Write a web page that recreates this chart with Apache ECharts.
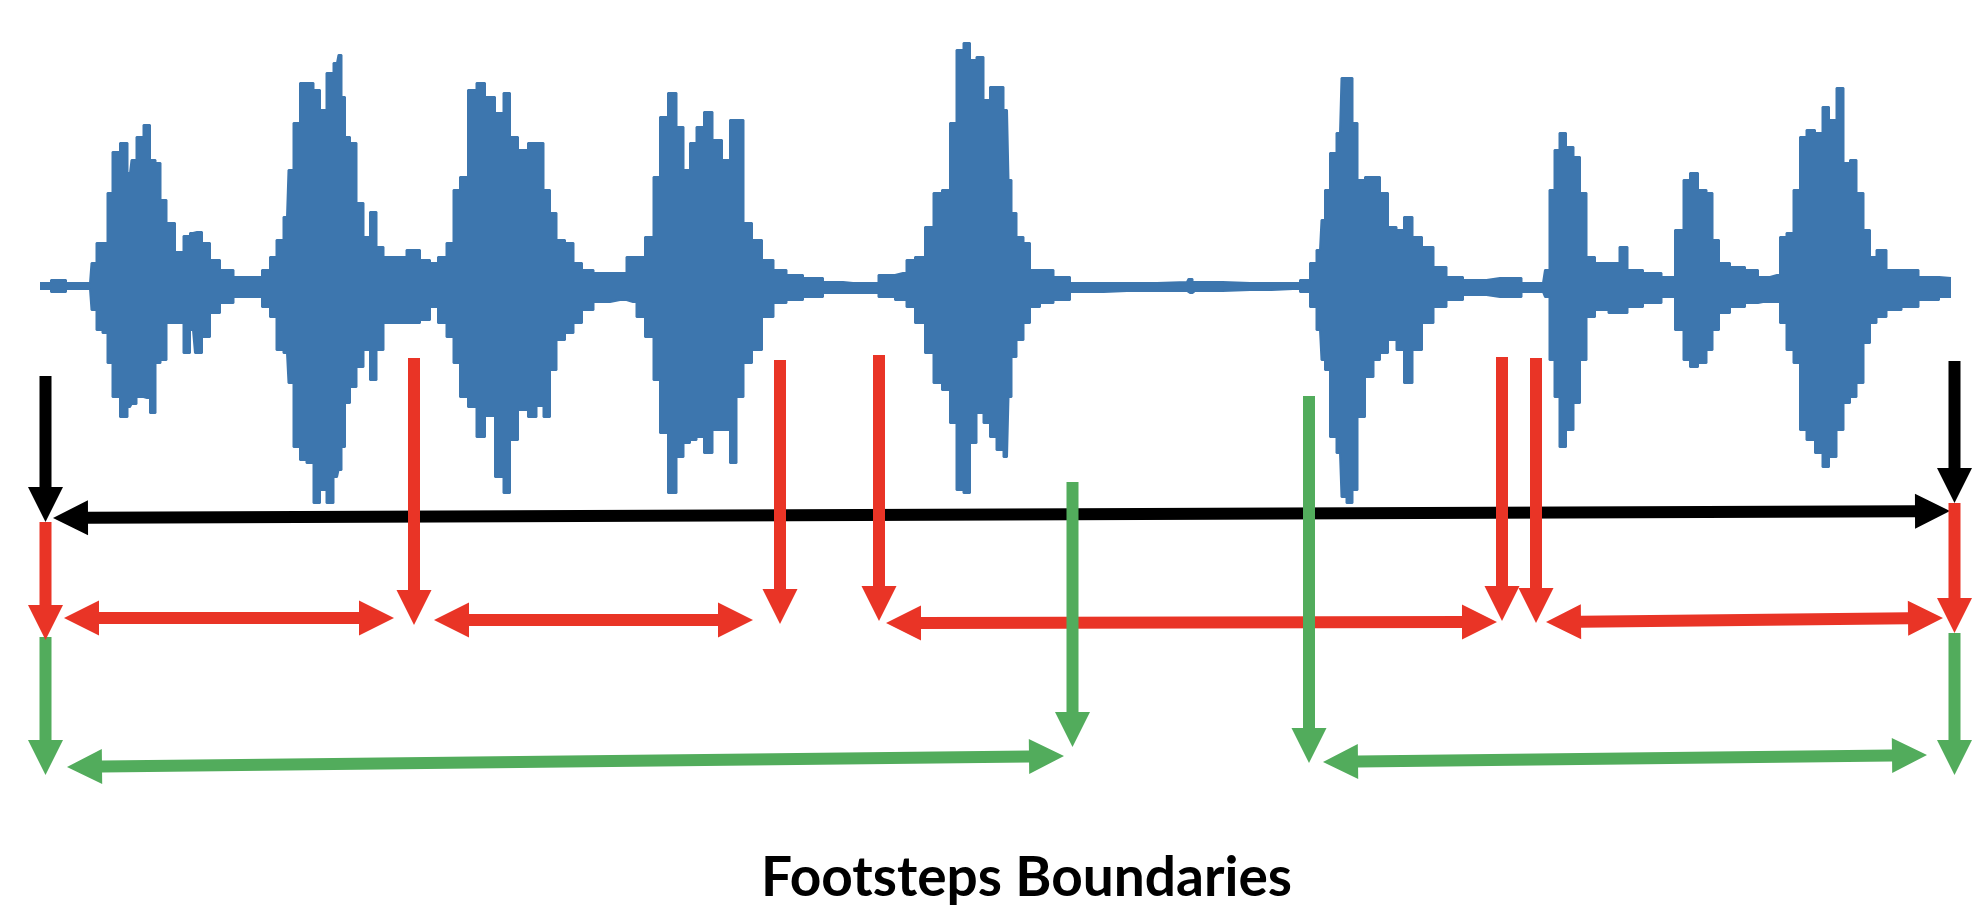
<!DOCTYPE html>
<html>
<head>
<meta charset="utf-8">
<script src="https://cdn.jsdelivr.net/npm/echarts@6/dist/echarts.min.js"></script>
<style>
  html, body { margin: 0; padding: 0; background: #ffffff; }
  #chart { width: 1986px; height: 918px; }
</style>
</head>
<body>
<div id="chart"></div>
<script>
// ---------------- DATA ----------------
// Waveform envelope: time (ms), upper envelope, lower envelope (amplitude, a.u.)
const waveT = [0,22,30,50,53,60,65,70,75,85,90,93,100,107,113,118,123,130,140,147,153,157,167,173,187,200,217,227,233,240,247,250,257,263,270,277,283,290,297,300,303,307,313,320,327,333,340,347,360,373,387,393,403,410,417,423,433,440,450,
  460,467,473,483,493,500,507,513,520,530,537,547,560,580,593,600,610,617,623,633,640,647,653,660,668,677,687,693,700,707,717,727,740,753,773,793,813,830,847,863,870,880,890,897,907,913,
  920,927,933,940,947,953,960,967,970,973,980,987,993,1007,1020,1040,1087,1147,1150,1155,1210,1253,1267,1273,1280,1283,1287,1293,1300,1303,1310,1315,1320,1330,1337,1343,1353,1360,1368,1377,1387,1400,1413,1433,
  1460,1503,1507,1512,1517,1522,1530,1537,1543,1550,1560,1577,1582,1593,1613,1630,1640,1647,1653,1663,1670,1675,1683,1697,1713,1723,1737,1743,1750,1757,1763,1770,1780,1785,1793,1800,1807,1813,1820,1827,1833,1840,1853,1870,1887,1911];
const waveTop = [3,6,3,3,23,43,43,93,134,143,113,126,149,161,126,123,86,63,34,50,53,54,43,26,16,9,9,16,29,46,69,116,163,203,203,196,176,213,223,231,189,149,143,83,49,74,39,29,29,36,26,23,29,43,96,109,196,203,189,
  173,193,149,136,143,143,96,73,46,43,23,16,13,13,29,29,49,109,169,193,159,116,143,159,174,146,126,166,166,63,46,26,16,11,8,4,3,3,11,13,26,29,59,93,96,163,
  236,243,226,229,186,199,199,176,106,73,49,43,16,16,9,3,3,4,7,4,3,3,6,23,36,66,96,133,153,208,208,163,106,109,109,93,59,56,69,49,39,19,9,6,
  8,3,16,96,136,153,139,129,93,29,23,23,39,16,13,9,56,106,113,96,93,46,23,19,16,9,11,49,53,96,149,156,153,179,166,198,123,126,93,56,29,36,16,16,9,8];
const waveBottom = [-3,-6,-3,-3,-24,-44,-47,-77,-111,-131,-121,-118,-111,-112,-127,-77,-74,-37,-37,-67,-44,-67,-51,-27,-17,-11,-11,-21,-31,-64,-67,-97,-161,-174,-177,-217,-204,-217,-191,-184,-161,-117,-101,-81,-64,-94,-64,-37,-37,-37,-34,-21,-37,-51,-77,-111,-121,-151,-130,
  -191,-207,-154,-124,-131,-120,-131,-84,-54,-47,-37,-24,-16,-14,-16,-31,-51,-94,-147,-207,-171,-157,-154,-151,-167,-144,-144,-177,-111,-77,-64,-31,-17,-14,-11,-7,-7,-7,-11,-14,-21,-37,-67,-97,-104,-137,
  -204,-207,-157,-127,-137,-151,-164,-171,-111,-71,-54,-37,-21,-17,-14,-6,-5,-5,-7,-5,-4,-3,-6,-21,-44,-74,-84,-151,-167,-211,-217,-204,-131,-91,-74,-67,-54,-64,-97,-64,-37,-21,-14,-9,
  -11,-6,-11,-74,-111,-161,-144,-117,-74,-31,-24,-27,-27,-21,-17,-11,-44,-74,-81,-77,-64,-44,-27,-21,-17,-16,-16,-37,-64,-77,-144,-154,-167,-181,-171,-144,-117,-111,-97,-57,-37,-31,-24,-21,-14,-11];

// Boundary drop arrows: [time, start level, tip level]
const recordingDrops = [[5.5, -90, -236], [1914.5, -75, -217]];
const stepDrops = [[5.5, -236, -354], [374, -72, -339], [740, -74, -338], [839, -69, -335], [1462, -71, -335], [1496, -72, -337], [1914.5, -217, -347]];
const strideDrops = [[5.5, -351, -489], [1032.5, -196, -461], [1269, -110, -477], [1914.5, -347, -489]];

// Interval spans (double arrows): [t1, level1, t2, level2]
const recordingSpans = [[13, -232, 1910, -225]];
const stepSpans = [[24, -332, 354, -332], [394, -334, 713, -334], [846, -337, 1457, -336], [1506, -336, 1903, -332]];
const strideSpans = [[27, -481, 1024, -470], [1283, -476, 1887, -469]];

const titleText = 'Footsteps Boundaries';

// ---------------- STYLE ----------------
const BLUE = '#3D76AE';
const RED = '#E93426';
const GREEN = '#52AC5C';
const BLACK = '#000000';
const SHAFT = 6, HEAD_L = 35, HEAD_W = 17.5;

function arrowRenderer(isDouble, color) {
  return function (params, api) {
    const a = api.coord([api.value(0), api.value(1)]);
    const b = api.coord([api.value(2), api.value(3)]);
    const dx = b[0] - a[0], dy = b[1] - a[1];
    const len = Math.sqrt(dx * dx + dy * dy) || 1;
    const ux = dx / len, uy = dy / len;
    const nx = -uy, ny = ux;
    const P = (p, along, side) => [p[0] + ux * along + nx * side, p[1] + uy * along + ny * side];
    let pts;
    if (isDouble) {
      pts = [
        a,
        P(a, HEAD_L, HEAD_W), P(a, HEAD_L, SHAFT),
        P(b, -HEAD_L, SHAFT), P(b, -HEAD_L, HEAD_W),
        b,
        P(b, -HEAD_L, -HEAD_W), P(b, -HEAD_L, -SHAFT),
        P(a, HEAD_L, -SHAFT), P(a, HEAD_L, -HEAD_W)
      ];
    } else {
      pts = [
        P(a, 0, SHAFT), P(b, -HEAD_L, SHAFT), P(b, -HEAD_L, HEAD_W),
        b,
        P(b, -HEAD_L, -HEAD_W), P(b, -HEAD_L, -SHAFT), P(a, 0, -SHAFT)
      ];
    }
    return { type: 'polygon', shape: { points: pts }, style: { fill: color } };
  };
}

function dropData(drops) { return drops.map(d => [d[0], d[1], d[0], d[2]]); }

function arrowSeries(data, isDouble, color, z) {
  return {
    type: 'custom',
    coordinateSystem: 'cartesian2d',
    renderItem: arrowRenderer(isDouble, color),
    data: data,
    encode: { x: [0, 2], y: [1, 3] },
    z: z,
    silent: true
  };
}

const chart = echarts.init(document.getElementById('chart'), null, { renderer: 'canvas' });
chart.setOption({
  animation: false,
  backgroundColor: '#ffffff',
  title: {
    text: titleText,
    left: 756,
    top: 846,
    textStyle: { fontFamily: 'Lato', fontWeight: 'bold', fontSize: 55, color: '#000000' }
  },
  grid: { left: 40, right: 16, top: 36, bottom: 72 },
  xAxis: { type: 'value', min: 0, max: 1930, show: false },
  yAxis: { type: 'value', min: -560, max: 250, show: false },
  series: [
    {
      type: 'line', step: 'middle', symbol: 'none', z: 1, silent: true,
      data: waveT.map((t, i) => [t, waveTop[i]]),
      lineStyle: { color: BLUE, width: 2 },
      areaStyle: { color: BLUE, opacity: 1 }
    },
    {
      type: 'line', step: 'middle', symbol: 'none', z: 1, silent: true,
      data: waveT.map((t, i) => [t, waveBottom[i]]),
      lineStyle: { color: BLUE, width: 2 },
      areaStyle: { color: BLUE, opacity: 1 }
    },
    arrowSeries(recordingSpans, true, BLACK, 3),
    arrowSeries(stepSpans, true, RED, 3),
    arrowSeries(strideSpans, true, GREEN, 3),
    arrowSeries(dropData(strideDrops), false, GREEN, 4),
    arrowSeries(dropData(stepDrops), false, RED, 5),
    arrowSeries(dropData(recordingDrops), false, BLACK, 6)
  ]
});
</script>
</body>
</html>
